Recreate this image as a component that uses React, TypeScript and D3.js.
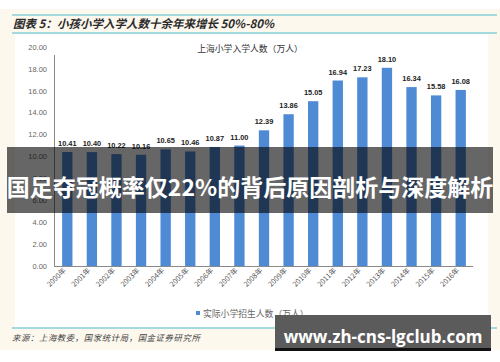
import * as d3 from 'd3'

const years = ['2000年', '2001年', '2002年', '2003年', '2004年', '2005年', '2006年', '2007年', '2008年',
  '2009年', '2010年', '2011年', '2012年', '2013年', '2014年', '2015年', '2016年']
const enrolment = [10.41, 10.40, 10.22, 10.16, 10.65, 10.46, 10.87, 11.00, 12.39,
  13.86, 15.05, 16.94, 17.23, 18.10, 16.34, 15.58, 16.08]
const yTicks = [0, 2, 4, 6, 8, 10, 12, 14, 16, 18, 20]

const W = 500
const H = 362
const cjk = '"Noto Sans CJK SC", sans-serif'
const num = '"Liberation Sans", Arial, sans-serif'

export default function App() {
  // plot area
  const x = d3.scaleBand().domain(years).range([55, 473]).paddingInner(0.58).paddingOuter(0.29)
  const y = d3.scaleLinear().domain([0, 20]).range([266, 47])
  const bw = x.bandwidth()

  return (
    <svg width={W} height={H} style={{position: 'absolute', left: 0, top: 0}}>
      <rect width={W} height={H} fill="#ffffff" />
      {/* cream frame */}
      <rect x={0} y={9} width={W} height={341} fill="#fdf8ee" />
      <rect x={15} y={34} width={473} height={293} fill="#ffffff" />

      {/* header */}
      <line x1={12} x2={497} y1={15} y2={15} stroke="#86d0d8" strokeWidth={1.5} />
      <line x1={12} x2={497} y1={33} y2={33} stroke="#86d0d8" strokeWidth={1.5} />
      <text x={13} y={28} fontFamily={cjk} fontSize={11.5} fontWeight="bold" fontStyle="italic" fill="#2b2b2b">
        图表 5：小孩小学入学人数十余年来增长 50%-80%
      </text>

      <text x={250} y={52} textAnchor="middle" fontFamily={cjk} fontSize={8.8} fill="#333">
        上海小学入学人数（万人）
      </text>

      {/* y axis labels */}
      {yTicks.map(t => (
        <text key={t} x={47} y={y(t) + 2.7} textAnchor="end" fontFamily={num} fontSize={7.5} fill="#666">
          {t.toFixed(2)}
        </text>
      ))}

      {/* bars */}
      {enrolment.map((v, i) => (
        <rect key={years[i]} x={x(years[i])} y={y(v)} width={bw} height={y(0) - y(v)} fill="#4f8ad4" />
      ))}
      {enrolment.map((v, i) => (
        <text key={'l' + i} x={x(years[i])! + bw / 2} y={y(v) - 6} textAnchor="middle"
          fontFamily={num} fontSize={7.4} fontWeight="bold" fill="#222">
          {v.toFixed(2)}
        </text>
      ))}

      {/* axes */}
      <line x1={54.5} x2={54.5} y1={y(20) + 8} y2={y(0)} stroke="#8a8a8a" strokeWidth={1} />
      <line x1={54} x2={473} y1={y(0) + 0.5} y2={y(0) + 0.5} stroke="#8a8a8a" strokeWidth={1} />

      {/* x labels */}
      {years.map(yr => {
        const cx = x(yr)! + bw / 2 - 1
        return (
          <text key={yr} transform={`translate(${cx},${271}) rotate(-45)`} textAnchor="end"
            fontFamily={cjk} fontSize={7.2} fill="#555">
            {yr}
          </text>
        )
      })}

      {/* legend */}
      <rect x={196} y={311} width={4} height={4} fill="#4f8ad4" />
      <text x={203} y={316.5} fontFamily={cjk} fontSize={8.8} fill="#666">实际小学招生人数（万人）</text>

      {/* footer */}
      <line x1={12} x2={497} y1={328} y2={328} stroke="#86d0d8" strokeWidth={1.5} />
      <text x={12} y={341} fontFamily={cjk} fontSize={8.4} fontStyle="italic" fill="#444" letterSpacing={0.6}>
        来源：上海教委，国家统计局，国金证券研究所
      </text>

      {/* overlay banner */}
      <rect x={7} y={147} width={486} height={66} fill="#000" fillOpacity={0.6} />
      <text x={250} y={196} textAnchor="middle" fontFamily={cjk} fontSize={23} fontWeight="bold" fill="#fff">
        国足夺冠概率仅22%的背后原因剖析与深度解析
      </text>

      {/* watermark */}
      <rect x={275} y={315} width={216} height={35} fill="#5b5b5b" />
      <rect x={275} y={348} width={216} height={3} fill="#111" />
      <text x={383} y={343} textAnchor="middle" fontFamily='"Open Sans", sans-serif' fontSize={17}
        fontWeight="bold" fill="#fff">
        www.zh-cns-lgclub.com
      </text>
    </svg>
  )
}
